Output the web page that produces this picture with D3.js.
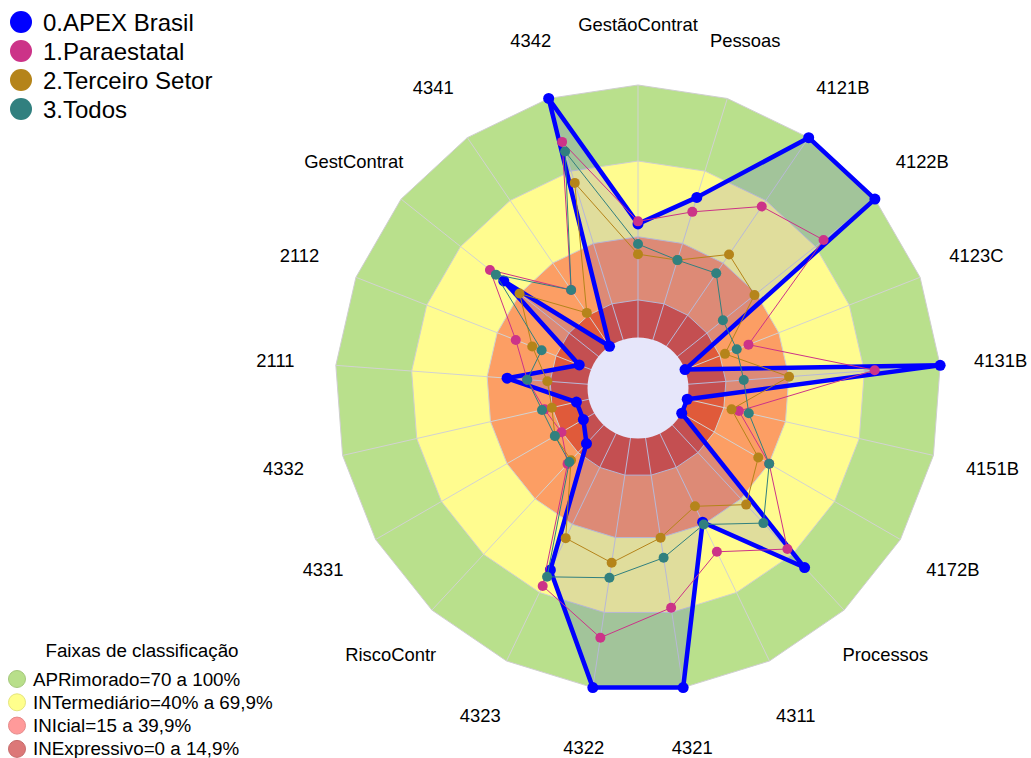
<!DOCTYPE html>
<html>
<head>
<meta charset="utf-8">
<script src="https://cdn.jsdelivr.net/npm/d3@7"></script>
<style>
  body { margin: 0; background: #fff; }
  text { font-family: "Liberation Sans", Arial, sans-serif; fill: #000; }
</style>
</head>
<body>
<div id="chart"></div>
<script>
const width = 1031;
const height = 758;
const cx = 638, cy = 388;
const R = 303;

// axes, clockwise from the top
const axes = ["GestãoContrat", "Pessoas", "4121B", "4122B", "4123C", "4131B", "4151B",
    "4172B", "Processos", "4311", "4321", "4322", "4323", "RiscoContr", "4331", "4332",
    "2111", "2112", "GestContrat", "4341", "4342"];

const apex        = [45, 59, 100, 100, 0, 100, 0, 0, 77, 39, 100, 100, 60, 10, 5, 5, 32, 5, 48, 0, 100];
const paraestatal = [46, 53, 67, 74, 27, 74, 21, 40, 67, 52, 68, 80, 67, 21, 15, 18, 24, 32, 55, 27, 82];
const terceiro    = [33, 33, 44, 39, 17, 40, 18, 35, 43, 32, 40, 50, 46, 19, 18, 15, 16, 25, 40, 16, 65];
const todos       = [37, 33, 35, 23, 22, 22, 25, 40, 53, 40, 48, 56, 63, 20, 18, 19, 24, 21, 52, 27, 78];

const seriesNames = ["0.APEX Brasil", "1.Paraestatal", "2.Terceiro Setor", "3.Todos"];
const seriesColors = ["#0000ff", "#cc3388", "#b5841a", "#31807f"];

// classification bands
const bandLevels = [100, 69.9, 39.9, 14.9];
const bandColors = ["#b9e08c", "#fffc8f", "#fc9e64", "#e05a3a"];
const bandNames = ["APRimorado=70 a 100%", "INTermediário=40% a 69,9%", "INIcial=15 a 39,9%", "INExpressivo=0 a 14,9%"];
const bandLegendColors = ["#b8df8a", "#ffff8c", "#ff9a9a", "#dc7878"];

const r = d3.scaleLinear().domain([0, 100]).range([R / 6, R]);
const angle = d3.scaleLinear().domain([0, axes.length]).range([0, 2 * Math.PI]);

const pt = (v, i) => [cx + r(v) * Math.sin(angle(i)), cy - r(v) * Math.cos(angle(i))];
const line = d3.line().curve(d3.curveLinearClosed);

const svg = d3.select("#chart").append("svg")
    .attr("width", width)
    .attr("height", height);

// bands
svg.selectAll("path.band")
    .data(bandLevels)
    .join("path")
    .attr("class", "band")
    .attr("d", lv => line(axes.map((a, i) => pt(lv, i))))
    .attr("fill", (d, i) => bandColors[i])
    .attr("stroke", "#cfcfcf")
    .attr("stroke-width", 1);

// axis lines
svg.selectAll("line.axis")
    .data(axes)
    .join("line")
    .attr("class", "axis")
    .attr("x1", cx).attr("y1", cy)
    .attr("x2", (d, i) => pt(100, i)[0])
    .attr("y2", (d, i) => pt(100, i)[1])
    .attr("stroke", "#d2d2d2")
    .attr("stroke-width", 1);

// APEX fill
svg.append("path")
    .attr("d", line(apex.map((v, i) => pt(v, i))))
    .attr("fill", "rgba(0,0,255,0.12)")
    .attr("stroke", "none");

// center circle
svg.append("circle")
    .attr("cx", cx).attr("cy", cy)
    .attr("r", r(0))
    .attr("fill", "#e6e6fa");

// series lines and points
const allSeries = [apex, paraestatal, terceiro, todos];
allSeries.forEach((vals, k) => {
    const pts = vals.map((v, i) => pt(v, i));
    svg.append("path")
        .attr("d", line(pts))
        .attr("fill", "none")
        .attr("stroke", seriesColors[k])
        .attr("stroke-width", k === 0 ? 4.5 : 1)
        .attr("stroke-linejoin", "round");
    svg.append("g").selectAll("circle")
        .data(pts)
        .join("circle")
        .attr("cx", d => d[0])
        .attr("cy", d => d[1])
        .attr("r", k === 0 ? 5.5 : 5)
        .attr("fill", seriesColors[k]);
});

// axis labels
svg.selectAll("text.lab")
    .data(axes)
    .join("text")
    .attr("class", "lab")
    .attr("x", (d, i) => cx + R * 1.2 * Math.sin(angle(i)))
    .attr("y", (d, i) => cy - R * 1.2 * Math.cos(angle(i)))
    .attr("text-anchor", "middle")
    .attr("dominant-baseline", "central")
    .style("font-size", "18.4px")
    .text(d => d);

// series legend
const leg = svg.append("g");
seriesNames.forEach((n, k) => {
    const y = 22 + k * 29;
    leg.append("circle").attr("cx", 21).attr("cy", y).attr("r", 11).attr("fill", seriesColors[k]);
    leg.append("text").attr("x", 43).attr("y", y).attr("dominant-baseline", "central")
        .style("font-size", "24px").text(n);
});

// band legend
const leg2 = svg.append("g");
leg2.append("text").attr("x", 142).attr("y", 650).attr("text-anchor", "middle")
    .attr("dominant-baseline", "central").style("font-size", "18.8px").text("Faixas de classificação");
bandNames.forEach((n, k) => {
    const y = 679 + k * 23.3;
    leg2.append("circle").attr("cx", 17).attr("cy", y).attr("r", 8.5)
        .attr("fill", bandLegendColors[k]).attr("stroke", d3.color(bandLegendColors[k]).darker(0.3)).attr("stroke-width", 1);
    leg2.append("text").attr("x", 33).attr("y", y).attr("dominant-baseline", "central")
        .style("font-size", "18.8px").text(n);
});
</script>
</body>
</html>
